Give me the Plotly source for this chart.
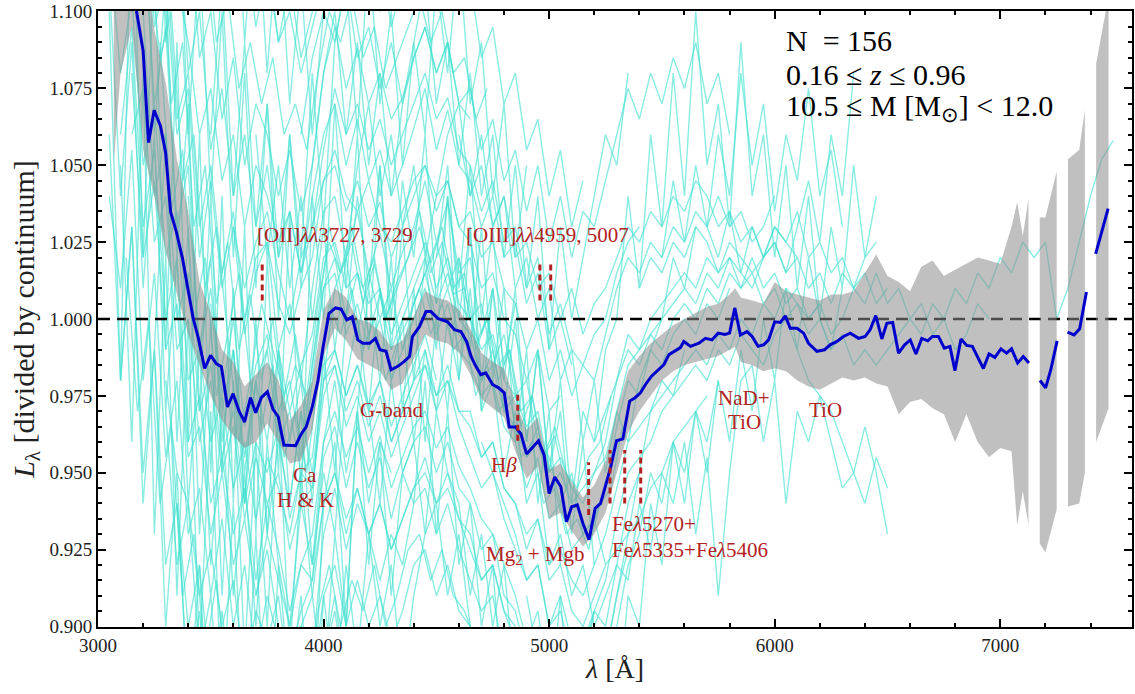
import plotly.graph_objects as go

# ---------------- data ----------------
X_MIN, X_MAX = 3000, 7584
Y_MIN, Y_MAX = 0.900, 1.100
CONTINUUM = 1.0
STEP = 50  # sampling of the individual spectra (Angstrom)

y_tickvals = [0.900, 0.925, 0.950, 0.975, 1.000, 1.025, 1.050, 1.075, 1.100]
x_tickvals = [3000, 4000, 5000, 6000, 7000]

# individual spectra: start wavelength and values (1000*(L-1))
cyan_starts = [3050, 3100, 3075, 3050, 3150, 3200, 3100, 3125, 3050, 3150, 3225, 3100, 3050, 3275,
               3200, 3150, 3300, 3350, 3050, 3175, 3250, 3350,
               3500, 3600, 3700, 3800, 3900, 4000, 4400, 4600, 4700, 4900, 5400, 5200, 5700, 5500,
               3050, 3100, 3200, 3300, 3150, 3400, 3600, 3050, 3500, 4500, 4200, 3250, 3700, 5000, 3100, 3050]
cyan_values = [
    [170,190,120,160,95,110,60,75,20,45,10,30,-5,15,25,-10,5,-20,10,35,40,20,35,15,28,10,22,30,45,25,38,15,20,-5,10,-15,5],
    [60,95,30,55,0,20,-40,-25,-60,-45,-70,-55,-85,-60,-75,-95,-80,-70,-40,-30,-45,-35,-50,-38,-55,-45,-35,-30,-42,-35,-48,-55,-65,-70,-80,-90,-105,-95,-120],
    [200,150,175,110,130,70,90,30,50,5,25,-10,8,-20,0,-30,-15,-25,5,25,15,30,10,20,0,12,20,35,18,30,10,15,-8,0,-20,-10,-35,-25,-45,-38,-55],
    [40,10,55,-20,15,-45,-20,-70,-55,-90,-65,-100,-80,-110,-90,-105,-120,-100,-110,-70,-55,-75,-60,-70,-85,-70,-80,-60,-55,-70,-60,-75,-85,-95,-90,-110],
    [210,160,180,120,140,80,100,55,75,40,60,30,50,20,35,15,40,60,70,50,65,45,55,40,50,62,75,55,68,50,45,30,40,20,25,5,15,-10,0,-15],
    [100,40,60,0,15,-30,-15,-45,-30,-60,-40,-50,-35,-65,-50,-45,-15,-10,-25,-15,-30,-20,-40,-30,-20,-10,-25,-15,-30,-30,-45,-40,-55,-60,-75,-65,-85,-80,-95,-100,-90,-80],
    [150,100,130,70,95,30,50,-10,10,-25,0,-35,-15,-5,-30,-20,-45,-15,10,20,0,15,-5,8,-10,0,10,20,5,15,0,-5,-20,-10,-30,-25,-45,-35],
    [20,-30,0,-60,-35,-90,-70,-110,-85,-120,-100,-130,-105,-125,-140,-115,-130,-95,-80,-100,-85,-95,-80,-100,-90,-75,-70,-85,-75,-90,-95,-105,-110,-125,-120,-140],
    [230,260,200,215,160,175,120,135,85,100,65,85,50,70,60,40,55,35,50,80,95,75,88,70,80,65,72,85,95,80,90,70,65],
    [80,20,45,-10,5,-45,-35,-70,-50,-80,-65,-90,-70,-85,-100,-80,-85,-45,-35,-55,-40,-55,-45,-65,-50,-40,-35,-50,-40,-55,-60,-75,-70,-90,-95,-110,-100,-125,-115,-130,-135],
    [120,85,100,45,60,10,30,-5,15,-20,5,-10,-25,-5,-30,0,30,15,25,5,18,0,10,20,30,15,25,8,10,-10,0,-15,-10,-30,-25,-45,-35,-50,-55,-45,-40,-25],
    [-20,30,-50,-10,-80,-60,-120,-95,-140,-115,-150,-125,-160,-135,-150,-170,-145,-150,-110,-95,-120,-100,-115,-105],
    [300,250,280,220,240,180,200,150,165,120,140,110,125,95,115,90,100,80,95,110,125],
    [90,35,55,0,20,-25,-5,-40,-20,-35,-15,-45,-30,-50,-20,5,-5,10,-10,0,-20,-8,0,10,-5,5,-10,-5,-25,-15,-30,-25,-45,-40,-60,-55,-70,-65,-75,-60,-55,-35],
    [160,105,120,65,80,30,50,15,35,0,20,25,5,-5,10,20,45,50,35,45,30,38,20,30,40,50,35,45,30,25,10,15,0,-5,-20,-10,-30,-25],
    [60,75,25,40,-10,0,-40,-20,-50,-35,-65,-45,-60,-50,-75,-60,-55,-25,-15,-35,-25,-40,-30,-45,-35,-25,-15,-30,-20,-35,-45,-55,-50,-65,-75,-85,-80,-100,-90,-105,-110,-95],
    [-20,-50,-60,-90,-75,-100,-85,-115,-95,-105,-90,-120,-100,-90,-60,-50,-70,-55,-70,-60,-75,-65,-55,-45,-60,-50,-65,-70,-85,-80,-95,-100,-115,-105,-125,-120,-135,-130,-120,-110,-90,-75],
    [110,90,60,75,45,60,30,50,40,25,35,15,30,55,75,60,70,55,65,50,60,70,80,65,72,55,50,35,45,25,30,10,20,-5,5,-10,-15,-5,0,15,25,30],
    [120,80,105,50,70,20,35,-20,-10,-40,-25,-55,-40,-65,-45,-55,-70,-50,-55,-20,-10,-25,-15,-28,-20,-35,-25,-15,-5,-20],
    [230,190,205,150,165,115,130,90,105,75,90,70,85,60,70,55,80,100,90,105,85,95,75,85,95,105,90,100,80,85,65,75],
    [250,180,210,160,175,130,150,110,130,100,120,90,110,85,100,120,140,115,130,105,120,95,110,125,135,110,125,100,110,85,95,70,80,55,65,40,55,30,45],
    [-60,-100,-80,-120,-95,-130,-110,-140,-115,-135,-150,-125,-120,-90,-80,-100,-85,-100,-90,-105,-95,-80,-75,-90,-80,-95,-100,-115,-110,-125,-135,-145,-140,-160,-150,-165],
    [5,-30,-10,-45,-20,-10,-40,-30,-50,-20,10,15,-5,5,-10,0,-20,-10,0,10,-5,5,-10,-15,-25,-20,-35,-40,-55,-45,-65,-60,-75,-70,-65,-55,-35,-20,-25,-10,-15,-5,0,-5,5,0,10],
    [30,10,25,35,15,0,20,30,45,55,40,35,45,30,25,35,45,50,40,45,30,35,20,25,10,5,-10,0,-20,-10,-25,-15,-20,-5,10,20,15,25,20,30,25,35,30,40,30,35,25,30,40],
    [-90,-75,-100,-110,-95,-85,-60,-50,-65,-55,-70,-60,-75,-65,-55,-50,-60,-55,-65,-75,-85,-80,-95,-105,-115,-110,-130,-120,-135,-130,-125,-110,-90,-70,-65,-55,-50,-40,-35,-30,-25],
    [-10,-30,-15,-5,20,25,10,15,5,10,-5,5,15,25,10,20,5,0,-10,-5,-20,-25,-35,-30,-50,-45,-55,-60,-50,-40,-20,-5,-10,0,5,10,15,10,20,15,25,20,15,20,30,25,20],
    [60,85,100,90,110,85,95,75,90,70,85,95,80,90,70,75,55,65,45,55,35,50,25,40,20,35,30,45,60,75,65,80,70,85,75,90,70,80,60],
    [-20,-15,-30,-20,-35,-25,-40,-30,-20,-15,-25,-20,-30,-35,-45,-40,-55,-60,-70,-65,-80,-75,-85,-90,-80,-70,-55,-40,-35,-30,-25,-20,-15,-10,-15,-5,-10,0,-5,5,0,10,5,0,5],
    [5,15,0,10,-5,-10,-20,-15,-30,-35,-45,-40,-55,-50,-60,-55,-50,-45,-30,-15,-10,-5,0,5,10,5,15,10,20,15,10,20,25,15,20,10,15,5,15,10,20,25],
    [60,40,50,30,40,20,25,10,15,0,10,-5,5,10,20,30,25,35,30,40,35,45,40,30,35,25,30,20,30,25,35,20,25,15,20,10,15,5,10],
    [-40,-50,-60,-70,-85,-80,-100,-95,-110,-105,-95,-85,-65,-50,-45,-40,-30,-25,-20,-15,-20,-10,-15,-5,-10,-15,-5,0,-10,-20,-25,-30,-40,-50,-60,-45,-55],
    [-90,-110,-100,-120,-105,-115,-95,-100,-80,-85,-60,-75,-50,-60,-40,-70,-45,-90,-50,-20,-15,-40,-20,-60,-30,-40,-25,-40,-55,-50,-35,-50,-70],
    [10,20,15,25,20,30,25,15,20,10,15,5,10,0,5,-5,0,-10,-5,-15,-10,-15,-10,-5,0,-5,5,0,10,5,15,10,20,15,25,20,25,0,10,25,40,52,58],
    [-40,-30,-20,-10,-15,-5,-10,0,5,0,10,5,15,10,20,10,15,5,10,0,5,-5,0,10,5,15,5,10,0,5,-5,0,-10,-5,5,0],
    [30,60,40,80,50,70,35,60,45,75,40,55,30],
    [20,45,25,50,30,20,35,15,30,20,25,15,30,45,25,60,40,80],
    [100,-20,150,20,120,-10,90,-40,60,-50,40,-60,30,-70,20,-50,35,-60,40,0,70,10,60,-10,50,0,45,20,60,5,40,-20,30,-30,10],
    [50,-40,80,-70,20,-90,0,-110,-30,-130,-60,-140,-70,-150,-80,-120,-90,-140,-60,-40,-100,-30,-80,-40,-90,-50,-60,-20,-70,-30,-80,-60,-100,-80,-130,-110,-150],
    [150,60,110,20,70,-30,40,-50,10,-60,0,-70,-10,-40,-20,-60,-10,-50,0,40,10,50,-10,30,-20,20,-10,40,10,50,0,30,-20,10,-40,-10,-50,-30,-70,-40,-80],
    [-30,-80,-60,-110,-90,-140,-100,-160,-120,-150,-110,-170,-130,-150,-90,-120,-80,-110,-70,-100,-80,-120,-90,-70,-60,-90,-70,-100,-110,-130,-120,-150,-140,-170,-150,-180],
    [220,130,190,90,150,60,120,40,100,20,80,10,70,0,60,20,80,30,90,110,60,120,70,100,50,90,60,110,80,120,70,90,40,70,20,50],
    [40,-10,20,-40,-10,-60,-20,-70,-40,-60,-30,-80,-50,-70,-20,0,-30,10,-20,0,-40,-10,-30,0,-20,10,-30,-20,-50,-30,-60,-50,-80,-70,-90,-80,-100,-90,-80,-60,-50],
    [-10,-50,-20,-40,-10,-60,-30,-50,-20,10,20,-5,15,0,10,-10,5,15,25,10,20,0,5,-15,-5,-25,-20,-40,-45,-60,-50,-70,-65,-80,-75,-70,-50,-30,-20,-25,-10],
    [110,40,90,10,60,-30,20,-60,-10,-80,-30,-90,-50,-100,-40,-80,-100,-60,-80,-40,-20,-50,-30,-60,-40,-50],
    [60,110,40,90,30,70,20,60,10,50,80,100,60,90,50,80,40,70,90,110,70,90,50,80,40,60,20,50,10,40,-10,30,0,20,40,60,50,80],
    [20,50,0,30,-20,10,-30,0,-40,-10,-50,-20,-60,-30,-40,-10,0,40,10,60,30,80,40,100,50,70,30,90,40,60,20,50,10,40,0,30,10,50,20,40],
    [-30,-60,-20,-50,-40,-70,-30,-50,-60,-90,-70,-100,-80,-120,-110,-140,-130,-160,-140,-170,-150,-120,-100,-80,-70,-50,-60,-40,-50,-30,-40,-20],
    [-10,60,-40,30,-70,0,-90,-20,-110,-40,-100,-30,-110,-50,-90,-120,-70,-100,-30,10,-20,20,-30,10,-40,0,-30,20,-10,30,-20,10,-40,-10,-60,-30,-80],
    [60,20,50,10,40,0,30,-10,20,50,70,40,60,30,50,20,40,60,70,40,60,30,40,10,20,0,10,-20,-10,-40,-20,-50,-30,-40,-20,-10,0,20,10,30],
    [-130,-90,-140,-100,-150,-110,-130,-90,-100,-60,-80,-40,-60,-30,-50,-20,-40,-10,-30,0,-20,10,-10,20,0,-10,10],
    [280,200,260,170,230,150,200,130,180,110,160,90,140,80,130,70,110,60,100,130,150,110,140,100,130],
    [60,-20,30,-60,-10,-100,-50,-130,-80,-150,-110,-160,-120,-170,-130,-160,-180,-140,-160,-110,-90,-120],
]

# median stacked spectrum (None = gap)
median_lam = [3150, 3171, 3200, 3224, 3249, 3277, 3300, 3322, 3348, 3375, 3401, 3422, 3445, 3473, 3499,
              3525, 3547, 3574, 3599, 3625, 3650, 3676, 3699, 3724, 3751, 3776, 3799, 3824, 3876, 3901,
              3923, 3950, 3975, 3997, 4024, 4053, 4078, 4103, 4127, 4152, 4174, 4204, 4230, 4250, 4277,
              4299, 4329, 4358, 4381, 4394, 4425, 4454, 4476, 4506, 4550, 4580, 4609, 4634, 4653, 4675,
              4697, 4719, 4749, 4776, 4801, 4823, 4850, 4875, 4900, 4927, 4953, 4978, 5000, 5025, 5052,
              5077, 5100, 5125, 5150, 5177, 5204, 5228, 5250, 5273, 5299, 5327, 5357, 5381, 5405, 5427,
              5454, 5479, 5509, 5531, 5558, 5582, 5597, 5627, 5664, 5693, 5722, 5749, 5779, 5800, 5823,
              5848, 5877, 5900, 5926, 5951, 5973, 6000, 6025, 6047, 6069, 6099, 6128, 6150, 6187, 6221,
              6246, 6276, 6305, 6335, 6372, 6401, 6423, 6448, 6475, 6497, 6523, 6549, 6576, 6601, 6626,
              6652, 6679, 6699, 6726, 6752, 6777, 6799, 6826, 6851, 6876, 6900, 6925, 6950, 6976, 7003,
              7028, 7050, 7077, 7102, 7127, 7150, 7176, 7201, 7224, 7252, 7275, 7298, 7327, 7352, 7382,
              7400, 7423, 7478]
median_val = [1.120, 1.100, 1.0873, 1.0574, 1.0679, 1.0628, 1.054, 1.0348, 1.0282, 1.0196, 1.0088, 1.0002, 0.9937, 0.9839, 0.9882,
              0.9854, 0.9845, 0.9714, 0.9757, 0.9701, 0.9665, 0.9744, 0.9695, 0.9744, 0.9763, 0.9706, 0.9682, 0.9590, 0.9588, 0.9626,
              0.9649, 0.9714, 0.9798, 0.9905, 1.0018, 1.0036, 1.0032, 0.9997, 1.0007, 0.9932, 0.9921, 0.9921, 0.9937, 0.9900, 0.9895,
              0.9835, 0.9846, 0.9862, 0.9878, 0.9943, 0.9975, 1.0024, 1.0024, 1.0002, 0.9991, 0.9965, 0.9959, 0.9927, 0.9880, 0.9846,
              0.9819, 0.9825, 0.9787, 0.9776, 0.9760, 0.9649, 0.9649, 0.9626, 0.9561, 0.9583, 0.9604, 0.9556, 0.9432, 0.9486, 0.9454,
              0.9340, 0.9389, 0.9395, 0.9335, 0.9282, 0.9384, 0.9400, 0.9454, 0.9518, 0.9604, 0.9610, 0.9733, 0.9744, 0.9760, 0.9787,
              0.9814, 0.9830, 0.9852, 0.9884, 0.9895, 0.9907, 0.9927, 0.9911, 0.9921, 0.9937, 0.9932, 0.9954, 0.9950, 0.9954, 1.0036,
              0.9948, 0.9959, 0.9943, 0.9911, 0.9916, 0.9932, 0.9991, 0.9989, 1.0010, 0.9970, 0.9970, 0.9954, 0.9921, 0.9895, 0.9900,
              0.9916, 0.9927, 0.9943, 0.9954, 0.9937, 0.9943, 0.9965, 1.0011, 0.9935, 0.9986, 0.9989, 0.9889, 0.9916, 0.9932, 0.9886,
              0.9937, 0.9929, 0.9943, 0.9943, 0.9905, 0.9911, 0.9832, 0.9935, 0.9914, 0.9911, 0.9878, 0.9839, 0.9886, 0.9875, 0.9903,
              0.9889, 0.9903, 0.9857, 0.9878, 0.9857, None, 0.9800, 0.9776, 0.9835, 0.9929, None, 0.9957, 0.9948, 0.9968, 1.0088,
              None, 1.0212, 1.0359]

# 1-sigma band (None = gap)
band_lam = [3070, 3100, 3150, 3200, 3250, 3300, 3350, 3400, 3450, 3500, 3550, 3600, 3650, 3700, 3750, 3800, 3850,
            3900, 3950, 4000, 4050, 4100, 4150, 4200, 4250, 4300, 4350, 4400, 4450, 4500, 4550, 4600, 4650,
            4700, 4750, 4800, 4850, 4900, 4950, 5000, 5050, 5100, 5150, 5200, 5250, 5300, 5350, 5400, 5450,
            5500, 5550, 5600, 5650, 5700, 5750, 5800, 5825, 5850, 5900, 5950, 6000, 6050, 6100, 6150, 6200,
            6250, 6300, 6350, 6400, 6450, 6500, 6550, 6600, 6650, 6700, 6750, 6800, 6850, 6900, 6950, 7000,
            7050, 7075, 7100, 7125, 7150, 7175, 7200, 7250, 7275, 7300, 7350, 7375, 7400, 7425, 7480]
band_lo = [1.051, 1.080, 1.095, 1.055, 1.040, 1.022, 1.008, 0.995, 0.985, 0.975, 0.967, 0.962, 0.958, 0.960, 0.966, 0.960, 0.953,
           0.954, 0.964, 0.988, 0.997, 0.993, 0.987, 0.985, 0.983, 0.977, 0.979, 0.987, 0.995, 0.993, 0.992, 0.989, 0.982,
           0.974, 0.971, 0.968, 0.957, 0.948, 0.952, 0.935, 0.937, 0.931, 0.926, 0.930, 0.937, 0.950, 0.963, 0.970, 0.975,
           0.980, 0.983, 0.985, 0.986, 0.987, 0.988, 0.990, 0.991, 0.986, 0.985, 0.983, 0.984, 0.983, 0.980, 0.978, 0.977,
           0.979, 0.981, 0.980, 0.981, 0.979, 0.978, 0.969, 0.973, 0.974, 0.971, 0.969, 0.960, 0.969, 0.960, 0.955, 0.958,
           0.957, 0.933, 0.944, 0.933, None, 0.927, 0.924, 0.938, None, 0.939, 0.940, 0.950, None, 0.960, 0.971]
band_hi = [1.130, 1.130, 1.130, 1.120, 1.094, 1.077, 1.052, 1.035, 1.012, 1.002, 0.990, 0.986, 0.978, 0.982, 0.986, 0.980, 0.967,
           0.972, 0.980, 1.003, 1.010, 1.007, 1.000, 0.999, 0.996, 0.991, 0.993, 1.001, 1.009, 1.007, 1.006, 1.003, 0.997,
           0.989, 0.986, 0.984, 0.973, 0.964, 0.968, 0.951, 0.953, 0.947, 0.942, 0.946, 0.954, 0.970, 0.983, 0.988, 0.992,
           0.995, 0.998, 1.000, 1.002, 1.004, 1.005, 1.008, 1.010, 1.007, 1.006, 1.005, 1.012, 1.009, 1.008, 1.007, 1.006,
           1.008, 1.008, 1.009, 1.015, 1.021, 1.014, 1.012, 1.009, 1.017, 1.019, 1.014, 1.016, 1.018, 1.020, 1.019, 1.018,
           1.030, 1.038, 1.027, 1.039, None, 1.033, 1.033, 1.048, None, 1.052, 1.055, 1.068, None, 1.083, 1.105]

# spectral feature markers
line_lam = [3728, 4959, 5007, 4861, 5175, 5270, 5335, 5406]
line_y0 = [1.006, 1.006, 1.006, 0.9604, 0.9362, 0.940, 0.940, 0.940]
line_y1 = [1.019, 1.0185, 1.0185, 0.976, 0.9534, 0.9574, 0.9574, 0.9574]

label_text = ["[OII]<i>λλ</i>3727, 3729", "[OIII]<i>λλ</i>4959, 5007", "Ca", "H &amp; K", "G-band",
              "H<i>β</i>", "Mg<sub>2</sub> + Mgb", "Fe<i>λ</i>5270+", "Fe<i>λ</i>5335+Fe<i>λ</i>5406",
              "NaD+", "TiO", "TiO"]
label_x = [3697, 4624, 3919, 3919, 4299, 4801, 4938, 5268, 5268, 5865, 5865, 6227]
label_y = [1.0272, 1.0272, 0.9494, 0.9410, 0.9703, 0.9524, 0.9233, 0.9333, 0.9250, 0.9743, 0.9664, 0.9703]
label_anchor = ["left", "left", "center", "center", "center", "center", "center", "left", "left",
                "center", "center", "center"]

info_text = ["N  = 156", "0.16 ≤ <i>z</i> ≤ 0.96", "10.5 ≤ M [M<sub>⊙</sub>] &lt; 12.0"]
info_y = [1.0905, 1.0795, 1.0688]
info_x = 6040

CYAN = "rgba(64,224,208,0.62)"
BLUE = "#0000cd"
RED = "#b22222"
FONT = "Liberation Serif"

fig = go.Figure()

for s, vals in zip(cyan_starts, cyan_values):
    fig.add_trace(go.Scatter(
        x=[s + STEP * i for i in range(len(vals))],
        y=[CONTINUUM + v / 1000 for v in vals],
        mode="lines", line=dict(color=CYAN, width=1.4),
        hoverinfo="skip", showlegend=False))

# continuum level
fig.add_trace(go.Scatter(x=[X_MIN, X_MAX], y=[CONTINUUM, CONTINUUM], mode="lines",
                         line=dict(color="black", width=2.5, dash="12px,7px"),
                         hoverinfo="skip", showlegend=False))

# band, split at gaps
seg_x, seg_lo, seg_hi = [], [], []
segments = []
for lx, lo, hi in zip(band_lam, band_lo, band_hi):
    if lo is None:
        segments.append((seg_x, seg_lo, seg_hi))
        seg_x, seg_lo, seg_hi = [], [], []
    else:
        seg_x.append(lx); seg_lo.append(lo); seg_hi.append(hi)
segments.append((seg_x, seg_lo, seg_hi))
for sx, slo, shi in segments:
    fig.add_trace(go.Scatter(x=sx + sx[::-1], y=shi + slo[::-1], fill="toself",
                             fillcolor="rgba(140,140,140,0.55)", line=dict(width=0),
                             mode="lines", hoverinfo="skip", showlegend=False))

fig.add_trace(go.Scatter(x=median_lam, y=median_val, mode="lines",
                         line=dict(color=BLUE, width=3), connectgaps=False,
                         hoverinfo="skip", showlegend=False))

for lx, a, b in zip(line_lam, line_y0, line_y1):
    fig.add_trace(go.Scatter(x=[lx, lx], y=[a, b], mode="lines",
                             line=dict(color=RED, width=3, dash="6px,4px"),
                             hoverinfo="skip", showlegend=False))

for t, x, y, anc in zip(label_text, label_x, label_y, label_anchor):
    fig.add_annotation(x=x, y=y, text=t, showarrow=False, xanchor=anc, yanchor="middle",
                       font=dict(family=FONT, size=21, color=RED))

for t, y in zip(info_text, info_y):
    fig.add_annotation(x=info_x, y=y, text=t, showarrow=False, xanchor="left", yanchor="middle",
                       font=dict(family=FONT, size=30, color="black"))

axis_common = dict(showline=True, linewidth=2, linecolor="black", mirror="allticks",
                   ticks="inside", ticklen=8, tickwidth=1.5, tickcolor="black",
                   showgrid=False, zeroline=False, ticklabeloverflow="allow",
                   tickfont=dict(family=FONT, size=19, color="#222"))

fig.update_xaxes(range=[X_MIN, X_MAX], tickmode="array", tickvals=x_tickvals,
                 ticktext=[str(v) for v in x_tickvals],
                 minor=dict(dtick=200, tick0=3000, ticks="inside", ticklen=4, tickcolor="black", showgrid=False),
                 title=dict(text="<i>λ</i> [Å]", font=dict(family=FONT, size=28, color="#222"), standoff=4),
                 **axis_common)
fig.update_yaxes(range=[Y_MIN - 0.0002, Y_MAX + 0.0002], tickmode="array", tickvals=y_tickvals,
                 ticktext=[f"{v:.3f}" for v in y_tickvals],
                 minor=dict(dtick=0.005, tick0=0.9, ticks="inside", ticklen=4, tickcolor="black", showgrid=False),
                 title=dict(text="<i>L</i><sub>λ</sub> [divided by continuum]",
                            font=dict(family=FONT, size=30, color="#222"), standoff=6),
                 **axis_common)

fig.update_layout(width=1135, height=694, margin=dict(l=98, r=1, t=7, b=67),
                  paper_bgcolor="white", plot_bgcolor="white", showlegend=False)

fig.write_html("out.html")
